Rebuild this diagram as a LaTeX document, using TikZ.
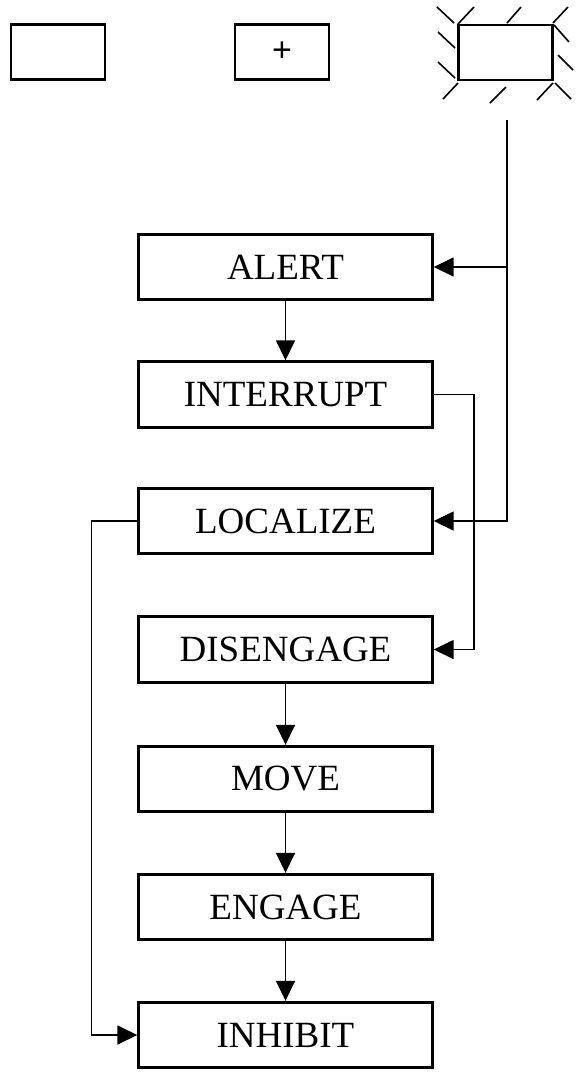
\documentclass[tikz,border=0pt]{standalone}
\usepackage{fontspec}
\setmainfont{Liberation Serif}
\newfontfamily\plusfont{Liberation Sans}
\usetikzlibrary{arrows.meta}
\begin{document}
\begin{tikzpicture}[x=1pt,y=-1pt,
  stage/.style={draw,line width=2.9pt,minimum width=293.5pt,minimum height=65.5pt,
    inner sep=0pt,font=\fontsize{37}{40}\selectfont},
  lamp/.style={draw,line width=2.9pt,minimum width=94pt,minimum height=55pt,inner sep=0pt},
  link/.style={line width=1.6pt,-{Triangle[length=20pt,width=19pt]}},
  ray/.style={line width=1.6pt}]
\useasboundingbox (0,0) rectangle (578,1072);

% indicator lamps: off, plus, lit
\node[lamp] (off) at (58,52) {};
\node[lamp,font=\plusfont\fontsize{34}{34}\selectfont] (plus) at (282,52) {+};
\node[lamp] (lit) at (505.5,52.5) {};

% rays around the lit lamp
\foreach \a/\b/\c/\d in {437/7/454/23, 458/24/474/7, 507/23/521/7, 553/23/568/7,
  554/25/569/42, 558/55/573/70, 537/100/553/83, 555/83/571/99,
  490/103/506/87, 443/99/458/83, 438/32/455/48, 438/62/455/78}
  \draw[ray] (\a,\b) -- (\c,\d);

% stages
\node[stage] (alert)     at (285.5,267)   {ALERT};
\node[stage] (interrupt) at (285.5,394.5) {INTERRUPT};
\node[stage] (localize)  at (285.5,521)   {LOCALIZE};
\node[stage] (disengage) at (285.5,649.5) {DISENGAGE};
\node[stage] (move)      at (285.5,779)   {MOVE};
\node[stage] (engage)    at (285.5,907)   {ENGAGE};
\node[stage] (inhibit)   at (285.5,1035)  {INHIBIT};

% signal from the lit lamp
\coordinate (tap) at (507,120);
\draw[link] (tap) |- (localize.east);
\draw[link] (tap |- alert.east) -- (alert.east);

% sequence
\draw[link] (alert) -- (interrupt);
\draw[link] (interrupt.east) -- ++(40,0) |- (disengage.east);
\draw[link] (localize.west) -- ++(-46,0) |- (inhibit.west);
\draw[link] (disengage) -- (move);
\draw[link] (move) -- (engage);
\draw[link] (engage) -- (inhibit);
\end{tikzpicture}
\end{document}
